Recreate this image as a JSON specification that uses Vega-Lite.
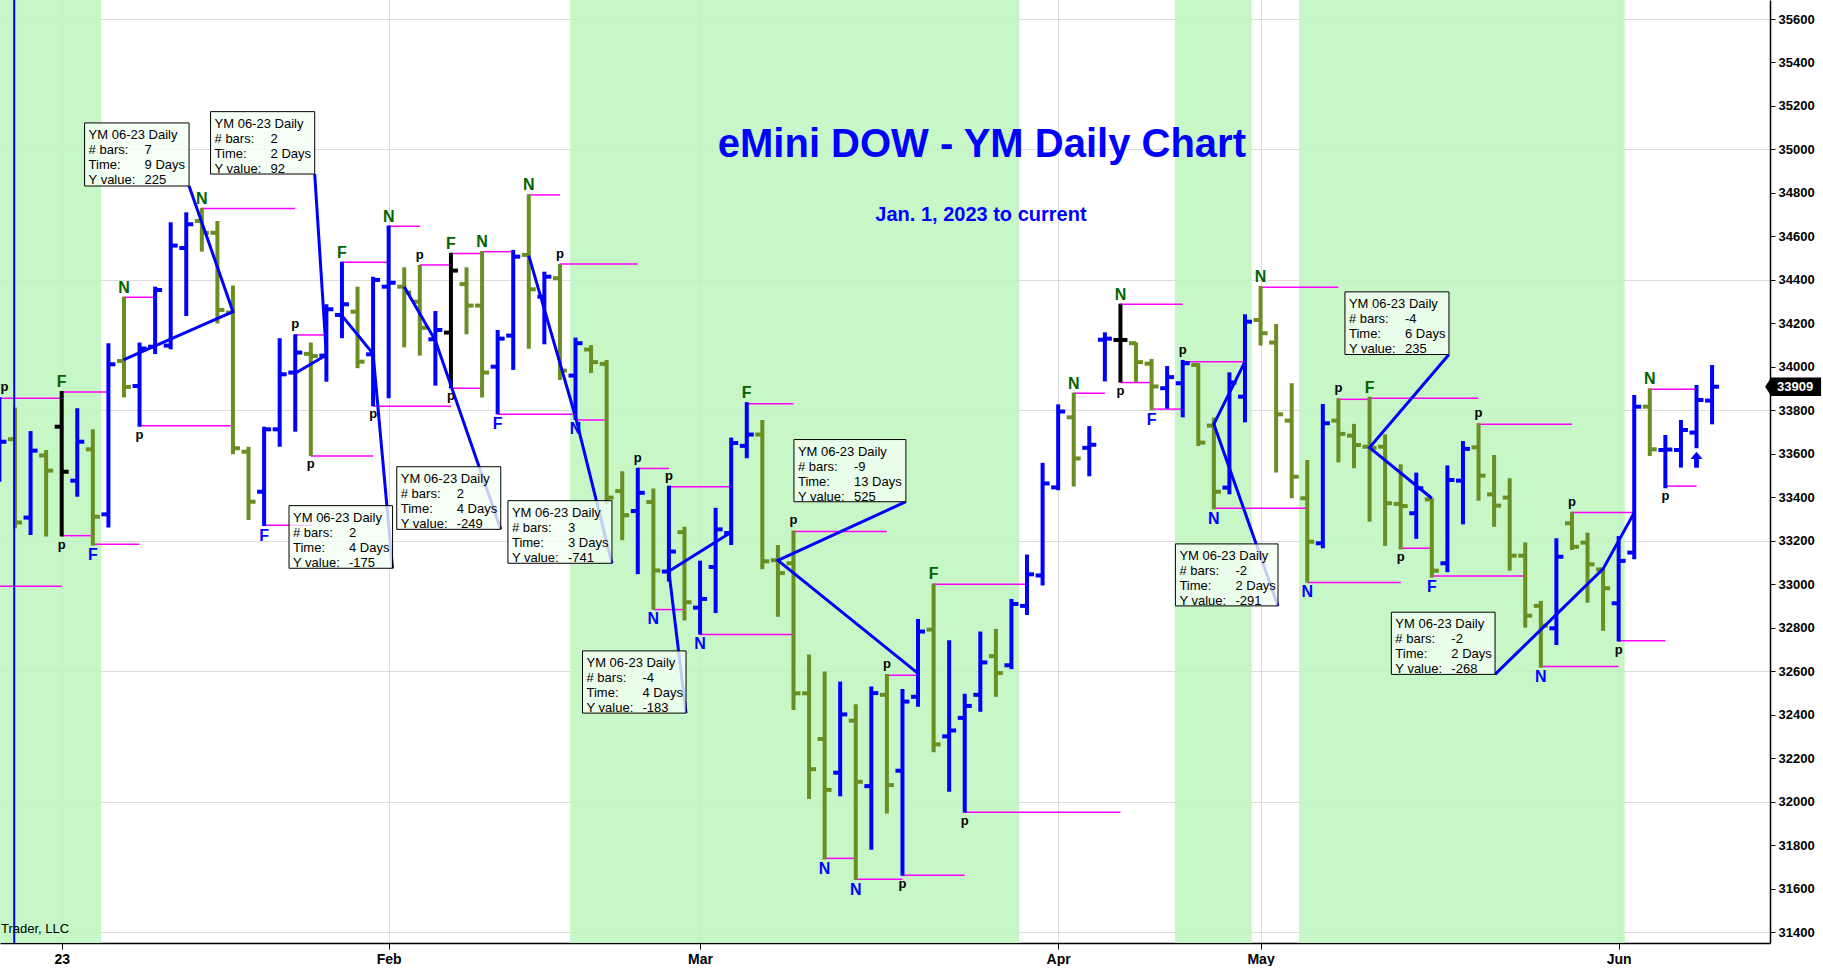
{
  "$schema": "https://vega.github.io/schema/vega-lite/v6.json",
  "width": 1770,
  "height": 943,
  "padding": 0,
  "autosize": {"type": "pad"},
  "background": "white",
  "config": {"view": {"stroke": null}, "font": "Liberation Sans"},
  "datasets": {
    "bands": [
      {"i1": -10, "i2": 2.54},
      {"i1": 32.65, "i2": 61.5},
      {"i1": 71.5, "i2": 76.43},
      {"i1": 79.47, "i2": 100.39}
    ],
    "bars": [
      {"i": -4, "o": 33700, "h": 33860, "l": 33472, "c": 33656, "dir": "up"},
      {"i": -3, "o": 33667, "h": 33813, "l": 33258, "c": 33284, "dir": "down"},
      {"i": -2, "o": 33307, "h": 33705, "l": 33227, "c": 33615, "dir": "up"},
      {"i": -1, "o": 33593, "h": 33618, "l": 33220, "c": 33523, "dir": "down"},
      {"i": 0, "o": 33725, "h": 33889, "l": 33220, "c": 33518, "dir": "flat"},
      {"i": 1, "o": 33477, "h": 33810, "l": 33403, "c": 33656, "dir": "up"},
      {"i": 2, "o": 33621, "h": 33713, "l": 33178, "c": 33311, "dir": "down"},
      {"i": 3, "o": 33322, "h": 34109, "l": 33262, "c": 34012, "dir": "up"},
      {"i": 4, "o": 34027, "h": 34323, "l": 33860, "c": 33908, "dir": "down"},
      {"i": 5, "o": 33912, "h": 34112, "l": 33725, "c": 34085, "dir": "up"},
      {"i": 6, "o": 34093, "h": 34369, "l": 34059, "c": 34354, "dir": "up"},
      {"i": 7, "o": 34098, "h": 34665, "l": 34081, "c": 34558, "dir": "up"},
      {"i": 8, "o": 34547, "h": 34711, "l": 34234, "c": 34656, "dir": "up"},
      {"i": 9, "o": 34671, "h": 34732, "l": 34530, "c": 34617, "dir": "down"},
      {"i": 10, "o": 34617, "h": 34671, "l": 34200, "c": 34262, "dir": "down"},
      {"i": 11, "o": 34250, "h": 34375, "l": 33598, "c": 33626, "dir": "down"},
      {"i": 12, "o": 33610, "h": 33633, "l": 33296, "c": 33380, "dir": "down"},
      {"i": 13, "o": 33426, "h": 33725, "l": 33268, "c": 33713, "dir": "up"},
      {"i": 14, "o": 33713, "h": 34132, "l": 33633, "c": 33966, "dir": "up"},
      {"i": 15, "o": 33974, "h": 34150, "l": 33702, "c": 34066, "dir": "up"},
      {"i": 16, "o": 34060, "h": 34112, "l": 33590, "c": 34050, "dir": "down"},
      {"i": 17, "o": 34052, "h": 34288, "l": 33932, "c": 34265, "dir": "up"},
      {"i": 18, "o": 34239, "h": 34484, "l": 34132, "c": 34288, "dir": "up"},
      {"i": 19, "o": 34254, "h": 34369, "l": 33994, "c": 34024, "dir": "down"},
      {"i": 20, "o": 34058, "h": 34415, "l": 33819, "c": 34400, "dir": "up"},
      {"i": 21, "o": 34369, "h": 34650, "l": 33856, "c": 34387, "dir": "up"},
      {"i": 22, "o": 34369, "h": 34458, "l": 34090, "c": 34342, "dir": "down"},
      {"i": 23, "o": 34300, "h": 34469, "l": 34052, "c": 34180, "dir": "down"},
      {"i": 24, "o": 34127, "h": 34257, "l": 33914, "c": 34170, "dir": "up"},
      {"i": 25, "o": 34158, "h": 34525, "l": 33902, "c": 34443, "dir": "flat"},
      {"i": 26, "o": 34381, "h": 34458, "l": 34150, "c": 34282, "dir": "down"},
      {"i": 27, "o": 34282, "h": 34533, "l": 33859, "c": 33974, "dir": "down"},
      {"i": 28, "o": 34001, "h": 34170, "l": 33782, "c": 34130, "dir": "up"},
      {"i": 29, "o": 34144, "h": 34538, "l": 33986, "c": 34507, "dir": "up"},
      {"i": 30, "o": 34515, "h": 34794, "l": 34084, "c": 34357, "dir": "down"},
      {"i": 31, "o": 34323, "h": 34438, "l": 34104, "c": 34415, "dir": "up"},
      {"i": 32, "o": 34408, "h": 34474, "l": 33940, "c": 33983, "dir": "down"},
      {"i": 33, "o": 33960, "h": 34135, "l": 33756, "c": 34109, "dir": "up"},
      {"i": 34, "o": 34080, "h": 34100, "l": 33972, "c": 34022, "dir": "down"},
      {"i": 35, "o": 34014, "h": 34032, "l": 33370, "c": 33399, "dir": "down"},
      {"i": 36, "o": 33429, "h": 33520, "l": 33203, "c": 33318, "dir": "down"},
      {"i": 37, "o": 33337, "h": 33536, "l": 33047, "c": 33421, "dir": "up"},
      {"i": 38, "o": 33379, "h": 33441, "l": 32884, "c": 33064, "dir": "down"},
      {"i": 39, "o": 33059, "h": 33454, "l": 33013, "c": 33151, "dir": "up"},
      {"i": 40, "o": 33240, "h": 33265, "l": 32834, "c": 32918, "dir": "down"},
      {"i": 41, "o": 32893, "h": 33109, "l": 32769, "c": 32933, "dir": "up"},
      {"i": 42, "o": 33080, "h": 33352, "l": 32868, "c": 33253, "dir": "up"},
      {"i": 43, "o": 33236, "h": 33675, "l": 33181, "c": 33650, "dir": "up"},
      {"i": 44, "o": 33637, "h": 33838, "l": 33580, "c": 33689, "dir": "up"},
      {"i": 45, "o": 33689, "h": 33756, "l": 33069, "c": 33106, "dir": "down"},
      {"i": 46, "o": 33111, "h": 33181, "l": 32851, "c": 33052, "dir": "down"},
      {"i": 47, "o": 33097, "h": 33248, "l": 32422, "c": 32499, "dir": "down"},
      {"i": 48, "o": 32499, "h": 32678, "l": 32013, "c": 32150, "dir": "down"},
      {"i": 49, "o": 32289, "h": 32599, "l": 31735, "c": 32055, "dir": "down"},
      {"i": 50, "o": 32134, "h": 32553, "l": 32025, "c": 32402, "dir": "up"},
      {"i": 51, "o": 32373, "h": 32449, "l": 31640, "c": 32092, "dir": "down"},
      {"i": 52, "o": 32072, "h": 32530, "l": 31780, "c": 32500, "dir": "up"},
      {"i": 53, "o": 32492, "h": 32588, "l": 31946, "c": 32077, "dir": "down"},
      {"i": 54, "o": 32143, "h": 32519, "l": 31660, "c": 32461, "dir": "up"},
      {"i": 55, "o": 32483, "h": 32841, "l": 32437, "c": 32783, "dir": "up"},
      {"i": 56, "o": 32792, "h": 33004, "l": 32228, "c": 32264, "dir": "down"},
      {"i": 57, "o": 32301, "h": 32743, "l": 32046, "c": 32328, "dir": "up"},
      {"i": 58, "o": 32386, "h": 32497, "l": 31950, "c": 32441, "dir": "up"},
      {"i": 59, "o": 32492, "h": 32783, "l": 32414, "c": 32641, "dir": "up"},
      {"i": 60, "o": 32670, "h": 32795, "l": 32483, "c": 32592, "dir": "down"},
      {"i": 61, "o": 32628, "h": 32933, "l": 32610, "c": 32910, "dir": "up"},
      {"i": 62, "o": 32901, "h": 33137, "l": 32859, "c": 33046, "dir": "up"},
      {"i": 63, "o": 33041, "h": 33559, "l": 32995, "c": 33464, "dir": "up"},
      {"i": 64, "o": 33446, "h": 33828, "l": 33433, "c": 33795, "dir": "up"},
      {"i": 65, "o": 33768, "h": 33882, "l": 33450, "c": 33579, "dir": "down"},
      {"i": 66, "o": 33628, "h": 33728, "l": 33497, "c": 33642, "dir": "up"},
      {"i": 67, "o": 34125, "h": 34159, "l": 33933, "c": 34130, "dir": "up"},
      {"i": 68, "o": 34124, "h": 34291, "l": 33928, "c": 34124, "dir": "flat"},
      {"i": 69, "o": 34109, "h": 34113, "l": 33931, "c": 34022, "dir": "down"},
      {"i": 70, "o": 34015, "h": 34037, "l": 33800, "c": 33910, "dir": "down"},
      {"i": 71, "o": 33902, "h": 34004, "l": 33808, "c": 33953, "dir": "up"},
      {"i": 72, "o": 33925, "h": 34032, "l": 33768, "c": 34017, "dir": "up"},
      {"i": 73, "o": 34009, "h": 34017, "l": 33636, "c": 33652, "dir": "down"},
      {"i": 74, "o": 33730, "h": 33767, "l": 33345, "c": 33426, "dir": "down"},
      {"i": 75, "o": 33445, "h": 33975, "l": 33414, "c": 33928, "dir": "up"},
      {"i": 76, "o": 33863, "h": 34242, "l": 33745, "c": 34208, "dir": "up"},
      {"i": 77, "o": 34216, "h": 34372, "l": 34098, "c": 34155, "dir": "down"},
      {"i": 78, "o": 34112, "h": 34197, "l": 33514, "c": 33782, "dir": "down"},
      {"i": 79, "o": 33753, "h": 33925, "l": 33396, "c": 33495, "dir": "down"},
      {"i": 80, "o": 33396, "h": 33572, "l": 33008, "c": 33196, "dir": "down"},
      {"i": 81, "o": 33189, "h": 33830, "l": 33166, "c": 33741, "dir": "up"},
      {"i": 82, "o": 33753, "h": 33856, "l": 33561, "c": 33692, "dir": "down"},
      {"i": 83, "o": 33684, "h": 33738, "l": 33534, "c": 33641, "dir": "down"},
      {"i": 84, "o": 33633, "h": 33863, "l": 33288, "c": 33628, "dir": "down"},
      {"i": 85, "o": 33633, "h": 33690, "l": 33177, "c": 33373, "dir": "down"},
      {"i": 86, "o": 33370, "h": 33552, "l": 33161, "c": 33360, "dir": "down"},
      {"i": 87, "o": 33327, "h": 33514, "l": 33209, "c": 33442, "dir": "up"},
      {"i": 88, "o": 33391, "h": 33396, "l": 33031, "c": 33063, "dir": "down"},
      {"i": 89, "o": 33097, "h": 33547, "l": 33056, "c": 33480, "dir": "up"},
      {"i": 90, "o": 33477, "h": 33659, "l": 33276, "c": 33623, "dir": "up"},
      {"i": 91, "o": 33630, "h": 33741, "l": 33385, "c": 33500, "dir": "down"},
      {"i": 92, "o": 33414, "h": 33595, "l": 33265, "c": 33362, "dir": "down"},
      {"i": 93, "o": 33399, "h": 33488, "l": 33063, "c": 33132, "dir": "down"},
      {"i": 94, "o": 33132, "h": 33193, "l": 32801, "c": 32856, "dir": "down"},
      {"i": 95, "o": 32901, "h": 32924, "l": 32617, "c": 32810, "dir": "down"},
      {"i": 96, "o": 32798, "h": 33212, "l": 32721, "c": 33127, "dir": "up"},
      {"i": 97, "o": 33281, "h": 33334, "l": 33158, "c": 33173, "dir": "down"},
      {"i": 98, "o": 33192, "h": 33238, "l": 32916, "c": 33092, "dir": "down"},
      {"i": 99, "o": 33069, "h": 33074, "l": 32786, "c": 32982, "dir": "down"},
      {"i": 100, "o": 32913, "h": 33222, "l": 32737, "c": 33108, "dir": "up"},
      {"i": 101, "o": 33146, "h": 33871, "l": 33115, "c": 33817, "dir": "up"},
      {"i": 102, "o": 33817, "h": 33902, "l": 33590, "c": 33621, "dir": "down"},
      {"i": 103, "o": 33618, "h": 33687, "l": 33442, "c": 33620, "dir": "up"},
      {"i": 104, "o": 33618, "h": 33756, "l": 33537, "c": 33710, "dir": "up"},
      {"i": 105, "o": 33698, "h": 33917, "l": 33626, "c": 33848, "dir": "up"},
      {"i": 106, "o": 33845, "h": 34009, "l": 33736, "c": 33909, "dir": "up"}
    ],
    "mag": [
      {"i1": -4, "i2": 0, "v": 33856}, {"i1": -10, "i2": 0, "v": 32991},
      {"i1": 0, "i2": 3, "v": 33885}, {"i1": 0, "i2": 2, "v": 33224},
      {"i1": 2, "i2": 5, "v": 33184}, {"i1": 4, "i2": 6, "v": 34320},
      {"i1": 5, "i2": 11, "v": 33730}, {"i1": 9, "i2": 15, "v": 34729},
      {"i1": 13, "i2": 16.1, "v": 33272}, {"i1": 15, "i2": 17, "v": 34147},
      {"i1": 16, "i2": 20, "v": 33590}, {"i1": 18, "i2": 21, "v": 34481},
      {"i1": 20, "i2": 25, "v": 33819}, {"i1": 21, "i2": 23, "v": 34647},
      {"i1": 23, "i2": 25, "v": 34469}, {"i1": 25, "i2": 27, "v": 34522},
      {"i1": 25, "i2": 27, "v": 33902}, {"i1": 27, "i2": 29, "v": 34530},
      {"i1": 28, "i2": 33, "v": 33782}, {"i1": 30, "i2": 32, "v": 34791},
      {"i1": 32, "i2": 37, "v": 34473}, {"i1": 33, "i2": 35, "v": 33756},
      {"i1": 37, "i2": 39, "v": 33533}, {"i1": 38, "i2": 40, "v": 32884},
      {"i1": 39, "i2": 43, "v": 33449}, {"i1": 41, "i2": 47, "v": 32769},
      {"i1": 44, "i2": 47, "v": 33831}, {"i1": 47, "i2": 53, "v": 33243},
      {"i1": 49, "i2": 51, "v": 31740}, {"i1": 51, "i2": 54, "v": 31644},
      {"i1": 53, "i2": 55, "v": 32582}, {"i1": 54, "i2": 58, "v": 31662},
      {"i1": 56, "i2": 62, "v": 33001}, {"i1": 58, "i2": 68, "v": 31952},
      {"i1": 65, "i2": 67, "v": 33879}, {"i1": 68, "i2": 72, "v": 34288},
      {"i1": 68, "i2": 70, "v": 33928}, {"i1": 70, "i2": 72, "v": 33806},
      {"i1": 72, "i2": 76, "v": 34024}, {"i1": 74, "i2": 80, "v": 33350},
      {"i1": 77, "i2": 82, "v": 34366}, {"i1": 80, "i2": 86, "v": 33009},
      {"i1": 82, "i2": 84, "v": 33851}, {"i1": 84, "i2": 91, "v": 33856},
      {"i1": 86, "i2": 88, "v": 33166}, {"i1": 88, "i2": 94, "v": 33039},
      {"i1": 91, "i2": 97, "v": 33736}, {"i1": 95, "i2": 100, "v": 32622},
      {"i1": 97, "i2": 101, "v": 33331}, {"i1": 100, "i2": 103, "v": 32741},
      {"i1": 102, "i2": 105, "v": 33897}, {"i1": 103, "i2": 105, "v": 33452}
    ],
    "zz": [
      {"s": 1, "o": 0, "i": 3.96, "v": 34032}, {"s": 1, "o": 1, "i": 11, "v": 34254}, {"s": 1, "o": 2, "i": 8.18, "v": 34832},
      {"s": 2, "o": 0, "i": 15, "v": 33971}, {"s": 2, "o": 1, "i": 17, "v": 34055}, {"s": 2, "o": 2, "i": 16.25, "v": 34887},
      {"s": 3, "o": 0, "i": 18, "v": 34236}, {"s": 3, "o": 1, "i": 20, "v": 34060}, {"s": 3, "o": 2, "i": 21.25, "v": 33074},
      {"s": 4, "o": 0, "i": 22, "v": 34369}, {"s": 4, "o": 1, "i": 24, "v": 34121}, {"s": 4, "o": 2, "i": 28.2, "v": 33253},
      {"s": 5, "o": 0, "i": 30, "v": 34512}, {"s": 5, "o": 1, "i": 33, "v": 33771}, {"s": 5, "o": 2, "i": 35.34, "v": 33097},
      {"s": 6, "o": 0, "i": 43, "v": 33240}, {"s": 6, "o": 1, "i": 39, "v": 33060}, {"s": 6, "o": 2, "i": 40.1, "v": 32408},
      {"s": 7, "o": 0, "i": 55, "v": 32591}, {"s": 7, "o": 1, "i": 46, "v": 33110}, {"s": 7, "o": 2, "i": 54.22, "v": 33380},
      {"s": 8, "o": 0, "i": 76, "v": 34024}, {"s": 8, "o": 1, "i": 74, "v": 33737}, {"s": 8, "o": 2, "i": 78.12, "v": 32901},
      {"s": 9, "o": 0, "i": 88, "v": 33396}, {"s": 9, "o": 1, "i": 84, "v": 33629}, {"s": 9, "o": 2, "i": 89.1, "v": 34057},
      {"s": 10, "o": 0, "i": 101, "v": 33330}, {"s": 10, "o": 1, "i": 99, "v": 33071}, {"s": 10, "o": 2, "i": 92.06, "v": 32586}
    ],
    "boxes": [
      {"i1": 1.47, "i2": 8.18, "v1": 35122, "v2": 34832, "bars": "7", "time": "9 Days", "yv": "225"},
      {"i1": 9.56, "i2": 16.25, "v1": 35174, "v2": 34887, "bars": "2", "time": "2 Days", "yv": "92"},
      {"i1": 14.6, "i2": 21.25, "v1": 33362, "v2": 33074, "bars": "2", "time": "4 Days", "yv": "-175"},
      {"i1": 21.52, "i2": 28.2, "v1": 33541, "v2": 33253, "bars": "2", "time": "4 Days", "yv": "-249"},
      {"i1": 28.66, "i2": 35.34, "v1": 33385, "v2": 33097, "bars": "3", "time": "3 Days", "yv": "-741"},
      {"i1": 33.45, "i2": 40.1, "v1": 32694, "v2": 32408, "bars": "-4", "time": "4 Days", "yv": "-183"},
      {"i1": 47.03, "i2": 54.22, "v1": 33666, "v2": 33380, "bars": "-9", "time": "13 Days", "yv": "525"},
      {"i1": 71.53, "i2": 78.12, "v1": 33186, "v2": 32901, "bars": "-2", "time": "2 Days", "yv": "-291"},
      {"i1": 82.42, "i2": 89.1, "v1": 34345, "v2": 34057, "bars": "-4", "time": "6 Days", "yv": "235"},
      {"i1": 85.4, "i2": 92.06, "v1": 32872, "v2": 32586, "bars": "-2", "time": "2 Days", "yv": "-268"}
    ],
    "labels": [
      {"i": -3.67, "v": 33860, "t": "p", "pos": "a"}, {"i": 0, "v": 33889, "t": "F", "pos": "a"},
      {"i": 4, "v": 34323, "t": "N", "pos": "a"}, {"i": 9, "v": 34732, "t": "N", "pos": "a"},
      {"i": 15, "v": 34150, "t": "p", "pos": "a"}, {"i": 18, "v": 34484, "t": "F", "pos": "a"},
      {"i": 21, "v": 34650, "t": "N", "pos": "a"}, {"i": 23, "v": 34469, "t": "p", "pos": "a"},
      {"i": 25, "v": 34525, "t": "F", "pos": "a"}, {"i": 27, "v": 34533, "t": "N", "pos": "a"},
      {"i": 30, "v": 34794, "t": "N", "pos": "a"}, {"i": 32, "v": 34474, "t": "p", "pos": "a"},
      {"i": 37, "v": 33536, "t": "p", "pos": "a"}, {"i": 39, "v": 33454, "t": "p", "pos": "a"},
      {"i": 44, "v": 33838, "t": "F", "pos": "a"}, {"i": 47, "v": 33248, "t": "p", "pos": "a"},
      {"i": 53, "v": 32588, "t": "p", "pos": "a"}, {"i": 56, "v": 33004, "t": "F", "pos": "a"},
      {"i": 65, "v": 33882, "t": "N", "pos": "a"}, {"i": 68, "v": 34291, "t": "N", "pos": "a"},
      {"i": 72, "v": 34032, "t": "p", "pos": "a"}, {"i": 77, "v": 34372, "t": "N", "pos": "a"},
      {"i": 82, "v": 33856, "t": "p", "pos": "a"}, {"i": 84, "v": 33863, "t": "F", "pos": "a"},
      {"i": 91, "v": 33741, "t": "p", "pos": "a"}, {"i": 97, "v": 33334, "t": "p", "pos": "a"},
      {"i": 102, "v": 33902, "t": "N", "pos": "a"},
      {"i": 0, "v": 33220, "t": "p", "pos": "b"}, {"i": 2, "v": 33178, "t": "F", "pos": "b"},
      {"i": 5, "v": 33725, "t": "p", "pos": "b"}, {"i": 13, "v": 33268, "t": "F", "pos": "b"},
      {"i": 16, "v": 33590, "t": "p", "pos": "b"}, {"i": 20, "v": 33819, "t": "p", "pos": "b"},
      {"i": 25, "v": 33902, "t": "p", "pos": "b"}, {"i": 28, "v": 33782, "t": "F", "pos": "b"},
      {"i": 33, "v": 33756, "t": "N", "pos": "b"}, {"i": 38, "v": 32884, "t": "N", "pos": "b"},
      {"i": 41, "v": 32769, "t": "N", "pos": "b"}, {"i": 49, "v": 31735, "t": "N", "pos": "b"},
      {"i": 51, "v": 31640, "t": "N", "pos": "b"}, {"i": 54, "v": 31660, "t": "p", "pos": "b"},
      {"i": 58, "v": 31950, "t": "p", "pos": "b"}, {"i": 68, "v": 33928, "t": "p", "pos": "b"},
      {"i": 70, "v": 33800, "t": "F", "pos": "b"}, {"i": 74, "v": 33345, "t": "N", "pos": "b"},
      {"i": 80, "v": 33008, "t": "N", "pos": "b"}, {"i": 86, "v": 33161, "t": "p", "pos": "b"},
      {"i": 88, "v": 33031, "t": "F", "pos": "b"}, {"i": 95, "v": 32617, "t": "N", "pos": "b"},
      {"i": 100, "v": 32737, "t": "p", "pos": "b"}, {"i": 103, "v": 33442, "t": "p", "pos": "b"}
    ],
    "arrows": [{"i": 105, "v": 33573}]
  },
  "layer": [
    {
      "data": {"name": "bands"},
      "mark": {"type": "rect", "fill": "#bdf5bd", "opacity": 0.85, "clip": true},
      "encoding": {
        "x": {"field": "i1", "type": "quantitative", "scale": {"domain": [-3.963, 109.72], "nice": false, "zero": false}, "title": null},
        "x2": {"field": "i2"}
      }
    },
    {
      "data": {"name": "mag"},
      "mark": {"type": "rule", "stroke": "#ff00ff", "strokeWidth": 1.5, "clip": true},
      "encoding": {
        "x": {"field": "i1", "type": "quantitative", "scale": {"domain": [-3.963, 109.72], "nice": false, "zero": false}, "title": null,
          "axis": {"values": [0, 21, 41, 64, 77, 100],
            "labelExpr": "datum.value == 0 ? '23' : datum.value == 21 ? 'Feb' : datum.value == 41 ? 'Mar' : datum.value == 64 ? 'Apr' : datum.value == 77 ? 'May' : 'Jun'",
            "grid": true, "gridColor": "#dcdcdc", "gridWidth": 1, "domainColor": "#000000", "domainWidth": 1.5,
            "tickColor": "#000000", "tickSize": 6, "labelPadding": 3, "labelFont": "Liberation Sans", "labelFontSize": 14,
            "labelFontWeight": "bold", "labelColor": "#000000"}},
        "x2": {"field": "i2"},
        "y": {"field": "v", "type": "quantitative", "scale": {"domain": [31350.7, 35687.4], "nice": false, "zero": false}, "title": null,
          "axis": {"orient": "right",
            "values": [31400, 31600, 31800, 32000, 32200, 32400, 32600, 32800, 33000, 33200, 33400, 33600, 33800, 34000, 34200, 34400, 34600, 34800, 35000, 35200, 35400, 35600],
            "format": "d", "grid": true, "gridColor": "#dcdcdc", "gridWidth": 1,
            "gridOpacity": {"condition": {"test": "datum.value % 600 == 200", "value": 1}, "value": 0},
            "domainColor": "#000000", "domainWidth": 1.5, "tickColor": "#000000", "tickSize": 5, "labelPadding": 3,
            "labelFont": "Liberation Sans", "labelFontSize": 13, "labelFontWeight": "bold", "labelColor": "#000000"}}
      }
    },
    {
      "data": {"name": "bars"},
      "mark": {"type": "rule", "strokeWidth": 4, "clip": true},
      "encoding": {
        "x": {"field": "i", "type": "quantitative", "scale": {"domain": [-3.963, 109.72], "nice": false, "zero": false}, "title": null},
        "y": {"field": "l", "type": "quantitative", "scale": {"domain": [31350.7, 35687.4], "nice": false, "zero": false}, "title": null},
        "y2": {"field": "h"},
        "color": {"field": "dir", "type": "nominal", "scale": {"domain": ["up", "down", "flat"], "range": ["#0000ff", "#6b8e23", "#000000"]}, "legend": null}
      }
    },
    {
      "data": {"name": "bars"},
      "mark": {"type": "tick", "orient": "horizontal", "size": 7, "thickness": 4, "xOffset": -3.5, "opacity": 1, "clip": true},
      "encoding": {
        "x": {"field": "i", "type": "quantitative", "scale": {"domain": [-3.963, 109.72], "nice": false, "zero": false}, "title": null},
        "y": {"field": "o", "type": "quantitative", "scale": {"domain": [31350.7, 35687.4], "nice": false, "zero": false}, "title": null},
        "color": {"field": "dir", "type": "nominal", "scale": {"domain": ["up", "down", "flat"], "range": ["#0000ff", "#6b8e23", "#000000"]}, "legend": null}
      }
    },
    {
      "data": {"name": "bars"},
      "mark": {"type": "tick", "orient": "horizontal", "size": 7, "thickness": 4, "xOffset": 3.5, "opacity": 1, "clip": true},
      "encoding": {
        "x": {"field": "i", "type": "quantitative", "scale": {"domain": [-3.963, 109.72], "nice": false, "zero": false}, "title": null},
        "y": {"field": "c", "type": "quantitative", "scale": {"domain": [31350.7, 35687.4], "nice": false, "zero": false}, "title": null},
        "color": {"field": "dir", "type": "nominal", "scale": {"domain": ["up", "down", "flat"], "range": ["#0000ff", "#6b8e23", "#000000"]}, "legend": null}
      }
    },
    {
      "data": {"values": [{"i": -3.05}]},
      "mark": {"type": "rule", "stroke": "#0000ff", "strokeWidth": 2, "clip": true},
      "encoding": {
        "x": {"field": "i", "type": "quantitative", "scale": {"domain": [-3.963, 109.72], "nice": false, "zero": false}, "title": null}
      }
    },
    {
      "data": {"name": "zz"},
      "mark": {"type": "line", "stroke": "#0000ff", "strokeWidth": 3, "clip": true},
      "encoding": {
        "x": {"field": "i", "type": "quantitative", "scale": {"domain": [-3.963, 109.72], "nice": false, "zero": false}, "title": null},
        "y": {"field": "v", "type": "quantitative", "scale": {"domain": [31350.7, 35687.4], "nice": false, "zero": false}, "title": null},
        "detail": {"field": "s", "type": "nominal"},
        "order": {"field": "o", "type": "quantitative"}
      }
    },
    {
      "data": {"name": "boxes"},
      "mark": {"type": "rect", "fill": "#f2fff2", "fillOpacity": 0.8, "stroke": "#000000", "strokeWidth": 1, "clip": true},
      "encoding": {
        "x": {"field": "i1", "type": "quantitative", "scale": {"domain": [-3.963, 109.72], "nice": false, "zero": false}, "title": null},
        "x2": {"field": "i2"},
        "y": {"field": "v1", "type": "quantitative", "scale": {"domain": [31350.7, 35687.4], "nice": false, "zero": false}, "title": null},
        "y2": {"field": "v2"}
      }
    },
    {
      "data": {"name": "boxes"},
      "mark": {"type": "text", "align": "left", "baseline": "alphabetic", "dx": 4, "dy": 16, "fontSize": 13, "font": "Liberation Sans", "color": "#000000", "text": "YM 06-23 Daily"},
      "encoding": {
        "x": {"field": "i1", "type": "quantitative", "scale": {"domain": [-3.963, 109.72], "nice": false, "zero": false}, "title": null},
        "y": {"field": "v1", "type": "quantitative", "scale": {"domain": [31350.7, 35687.4], "nice": false, "zero": false}, "title": null}
      }
    },
    {
      "data": {"name": "boxes"},
      "mark": {"type": "text", "align": "left", "baseline": "alphabetic", "dx": 4, "dy": 31, "fontSize": 13, "font": "Liberation Sans", "color": "#000000", "text": "# bars:"},
      "encoding": {
        "x": {"field": "i1", "type": "quantitative", "scale": {"domain": [-3.963, 109.72], "nice": false, "zero": false}, "title": null},
        "y": {"field": "v1", "type": "quantitative", "scale": {"domain": [31350.7, 35687.4], "nice": false, "zero": false}, "title": null}
      }
    },
    {
      "data": {"name": "boxes"},
      "mark": {"type": "text", "align": "left", "baseline": "alphabetic", "dx": 4, "dy": 46, "fontSize": 13, "font": "Liberation Sans", "color": "#000000", "text": "Time:"},
      "encoding": {
        "x": {"field": "i1", "type": "quantitative", "scale": {"domain": [-3.963, 109.72], "nice": false, "zero": false}, "title": null},
        "y": {"field": "v1", "type": "quantitative", "scale": {"domain": [31350.7, 35687.4], "nice": false, "zero": false}, "title": null}
      }
    },
    {
      "data": {"name": "boxes"},
      "mark": {"type": "text", "align": "left", "baseline": "alphabetic", "dx": 4, "dy": 61, "fontSize": 13, "font": "Liberation Sans", "color": "#000000", "text": "Y value:"},
      "encoding": {
        "x": {"field": "i1", "type": "quantitative", "scale": {"domain": [-3.963, 109.72], "nice": false, "zero": false}, "title": null},
        "y": {"field": "v1", "type": "quantitative", "scale": {"domain": [31350.7, 35687.4], "nice": false, "zero": false}, "title": null}
      }
    },
    {
      "data": {"name": "boxes"},
      "mark": {"type": "text", "align": "left", "baseline": "alphabetic", "dx": 60, "dy": 31, "fontSize": 13, "font": "Liberation Sans", "color": "#000000"},
      "encoding": {
        "x": {"field": "i1", "type": "quantitative", "scale": {"domain": [-3.963, 109.72], "nice": false, "zero": false}, "title": null},
        "y": {"field": "v1", "type": "quantitative", "scale": {"domain": [31350.7, 35687.4], "nice": false, "zero": false}, "title": null},
        "text": {"field": "bars"}
      }
    },
    {
      "data": {"name": "boxes"},
      "mark": {"type": "text", "align": "left", "baseline": "alphabetic", "dx": 60, "dy": 46, "fontSize": 13, "font": "Liberation Sans", "color": "#000000"},
      "encoding": {
        "x": {"field": "i1", "type": "quantitative", "scale": {"domain": [-3.963, 109.72], "nice": false, "zero": false}, "title": null},
        "y": {"field": "v1", "type": "quantitative", "scale": {"domain": [31350.7, 35687.4], "nice": false, "zero": false}, "title": null},
        "text": {"field": "time"}
      }
    },
    {
      "data": {"name": "boxes"},
      "mark": {"type": "text", "align": "left", "baseline": "alphabetic", "dx": 60, "dy": 61, "fontSize": 13, "font": "Liberation Sans", "color": "#000000"},
      "encoding": {
        "x": {"field": "i1", "type": "quantitative", "scale": {"domain": [-3.963, 109.72], "nice": false, "zero": false}, "title": null},
        "y": {"field": "v1", "type": "quantitative", "scale": {"domain": [31350.7, 35687.4], "nice": false, "zero": false}, "title": null},
        "text": {"field": "yv"}
      }
    },
    {
      "data": {"name": "labels"},
      "transform": [{"filter": "datum.pos == 'a' && datum.t != 'p'"}],
      "mark": {"type": "text", "align": "center", "baseline": "alphabetic", "dy": -4, "fontSize": 16, "fontWeight": "bold", "font": "Liberation Sans", "color": "#006400", "clip": true},
      "encoding": {
        "x": {"field": "i", "type": "quantitative", "scale": {"domain": [-3.963, 109.72], "nice": false, "zero": false}, "title": null},
        "y": {"field": "v", "type": "quantitative", "scale": {"domain": [31350.7, 35687.4], "nice": false, "zero": false}, "title": null},
        "text": {"field": "t"}
      }
    },
    {
      "data": {"name": "labels"},
      "transform": [{"filter": "datum.pos == 'b' && datum.t != 'p'"}],
      "mark": {"type": "text", "align": "center", "baseline": "alphabetic", "dy": 14.5, "fontSize": 16, "fontWeight": "bold", "font": "Liberation Sans", "color": "#0000ff", "clip": true},
      "encoding": {
        "x": {"field": "i", "type": "quantitative", "scale": {"domain": [-3.963, 109.72], "nice": false, "zero": false}, "title": null},
        "y": {"field": "v", "type": "quantitative", "scale": {"domain": [31350.7, 35687.4], "nice": false, "zero": false}, "title": null},
        "text": {"field": "t"}
      }
    },
    {
      "data": {"name": "labels"},
      "transform": [{"filter": "datum.pos == 'a' && datum.t == 'p'"}],
      "mark": {"type": "text", "align": "center", "baseline": "alphabetic", "dy": -6, "fontSize": 13, "fontWeight": "bold", "font": "Liberation Sans", "color": "#000000", "clip": true},
      "encoding": {
        "x": {"field": "i", "type": "quantitative", "scale": {"domain": [-3.963, 109.72], "nice": false, "zero": false}, "title": null},
        "y": {"field": "v", "type": "quantitative", "scale": {"domain": [31350.7, 35687.4], "nice": false, "zero": false}, "title": null},
        "text": {"field": "t"}
      }
    },
    {
      "data": {"name": "labels"},
      "transform": [{"filter": "datum.pos == 'b' && datum.t == 'p'"}],
      "mark": {"type": "text", "align": "center", "baseline": "alphabetic", "dy": 12, "fontSize": 13, "fontWeight": "bold", "font": "Liberation Sans", "color": "#000000", "clip": true},
      "encoding": {
        "x": {"field": "i", "type": "quantitative", "scale": {"domain": [-3.963, 109.72], "nice": false, "zero": false}, "title": null},
        "y": {"field": "v", "type": "quantitative", "scale": {"domain": [31350.7, 35687.4], "nice": false, "zero": false}, "title": null},
        "text": {"field": "t"}
      }
    },
    {
      "data": {"name": "arrows"},
      "mark": {"type": "point", "shape": "M0,-1L0.75,-0.1L0.3,-0.1L0.3,1L-0.3,1L-0.3,-0.1L-0.75,-0.1Z", "size": 256, "filled": true, "color": "#0000ff", "opacity": 1, "clip": true},
      "encoding": {
        "x": {"field": "i", "type": "quantitative", "scale": {"domain": [-3.963, 109.72], "nice": false, "zero": false}, "title": null},
        "y": {"field": "v", "type": "quantitative", "scale": {"domain": [31350.7, 35687.4], "nice": false, "zero": false}, "title": null}
      }
    },
    {
      "data": {"values": [{"i": 59.1, "v": 34967, "label": "eMini DOW - YM Daily Chart"}]},
      "mark": {"type": "text", "align": "center", "baseline": "alphabetic", "fontSize": 40, "fontWeight": "bold", "font": "Liberation Sans", "color": "#0000ff"},
      "encoding": {
        "x": {"field": "i", "type": "quantitative", "scale": {"domain": [-3.963, 109.72], "nice": false, "zero": false}, "title": null},
        "y": {"field": "v", "type": "quantitative", "scale": {"domain": [31350.7, 35687.4], "nice": false, "zero": false}, "title": null},
        "text": {"field": "label"}
      }
    },
    {
      "data": {"values": [{"i": 59.04, "v": 34672, "label": "Jan. 1, 2023 to current"}]},
      "mark": {"type": "text", "align": "center", "baseline": "alphabetic", "fontSize": 20, "fontWeight": "bold", "font": "Liberation Sans", "color": "#0000ff"},
      "encoding": {
        "x": {"field": "i", "type": "quantitative", "scale": {"domain": [-3.963, 109.72], "nice": false, "zero": false}, "title": null},
        "y": {"field": "v", "type": "quantitative", "scale": {"domain": [31350.7, 35687.4], "nice": false, "zero": false}, "title": null},
        "text": {"field": "label"}
      }
    },
    {
      "data": {"values": [{"i": -3.9, "v": 31395, "label": "Trader, LLC"}]},
      "mark": {"type": "text", "align": "left", "baseline": "alphabetic", "fontSize": 13, "font": "Liberation Sans", "color": "#000000", "clip": true},
      "encoding": {
        "x": {"field": "i", "type": "quantitative", "scale": {"domain": [-3.963, 109.72], "nice": false, "zero": false}, "title": null},
        "y": {"field": "v", "type": "quantitative", "scale": {"domain": [31350.7, 35687.4], "nice": false, "zero": false}, "title": null},
        "text": {"field": "label"}
      }
    },
    {
      "data": {"name": "bars"},
      "transform": [{"filter": "datum.i == 106"}],
      "mark": {"type": "point", "shape": "M-1,0L-0.78,-0.33L1,-0.33L1,0.33L-0.78,0.33Z", "size": 3136, "filled": true, "color": "#000000", "opacity": 1, "xOffset": 81, "clip": false},
      "encoding": {
        "x": {"field": "i", "type": "quantitative", "scale": {"domain": [-3.963, 109.72], "nice": false, "zero": false}, "title": null},
        "y": {"field": "c", "type": "quantitative", "scale": {"domain": [31350.7, 35687.4], "nice": false, "zero": false}, "title": null}
      }
    },
    {
      "data": {"name": "bars"},
      "transform": [{"filter": "datum.i == 106"}],
      "mark": {"type": "text", "align": "center", "baseline": "middle", "fontSize": 13, "fontWeight": "bold", "font": "Liberation Sans", "color": "#ffffff", "xOffset": 83, "clip": false},
      "encoding": {
        "x": {"field": "i", "type": "quantitative", "scale": {"domain": [-3.963, 109.72], "nice": false, "zero": false}, "title": null},
        "y": {"field": "c", "type": "quantitative", "scale": {"domain": [31350.7, 35687.4], "nice": false, "zero": false}, "title": null},
        "text": {"field": "c", "type": "quantitative", "format": "d"}
      }
    }
  ]
}
